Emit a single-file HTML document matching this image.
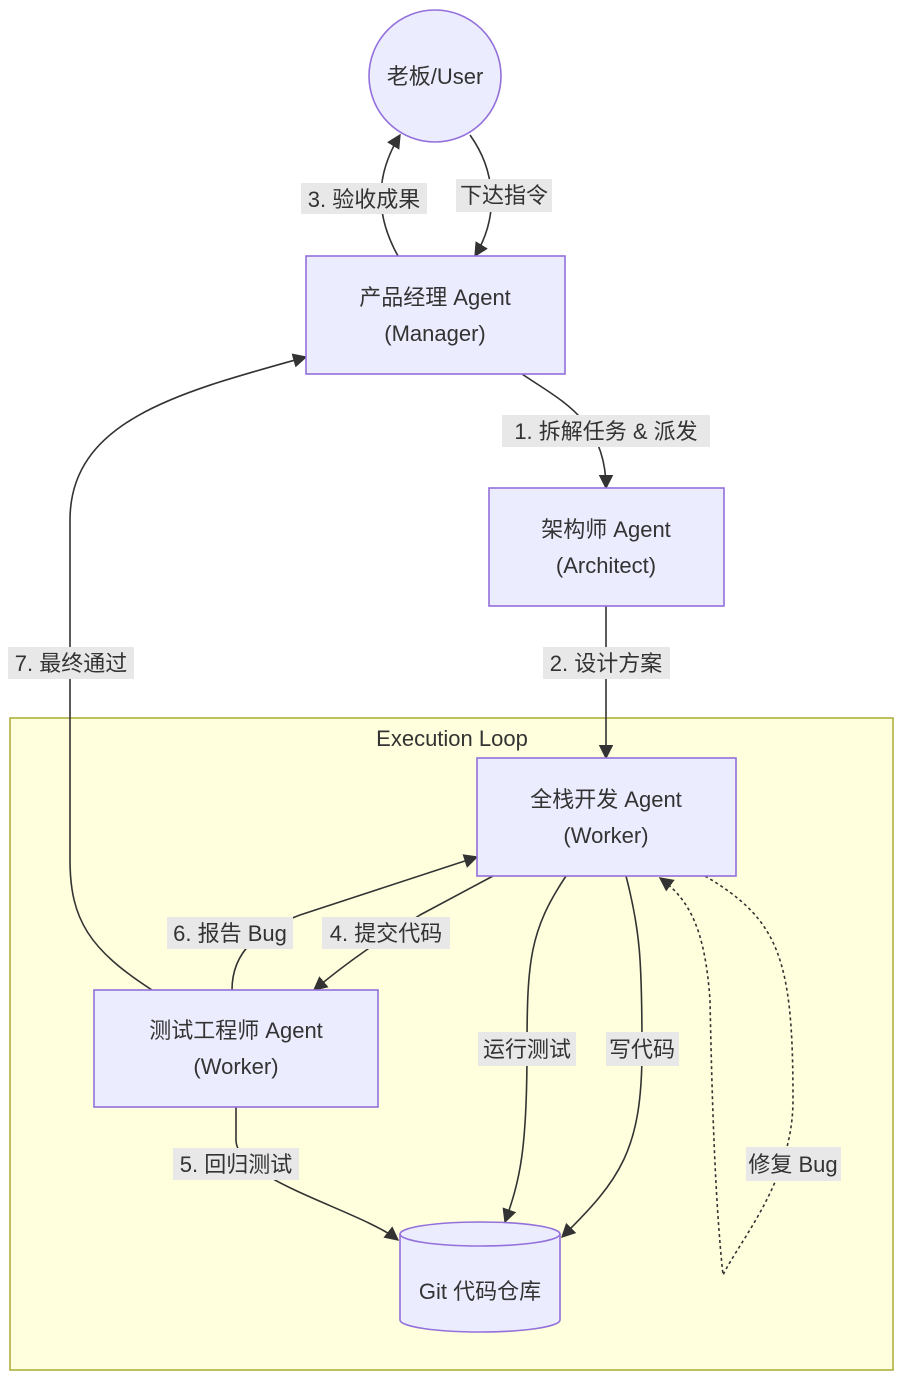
<!DOCTYPE html>
<html><head><meta charset="utf-8"><style>
body{margin:0;background:#fff;}
svg{display:block;}
text{font-family:"Liberation Sans","Noto Sans CJK SC",sans-serif;font-size:22px;fill:#333;}
.lb{fill:#e8e8e8;}
.e{fill:none;stroke:#333;stroke-width:1.6;}
.n{fill:#ececff;stroke:#9370db;stroke-width:1.6;}
</style></head><body>
<svg width="900" height="1382" viewBox="0 0 900 1382" xmlns="http://www.w3.org/2000/svg">
<defs><marker id="a" viewBox="0 0 10 10" refX="9" refY="5" markerWidth="9" markerHeight="9" orient="auto-start-reverse"><path d="M0,0L10,5L0,10z" fill="#333"/></marker></defs>
<rect x="10" y="718" width="883" height="652" fill="#ffffde" stroke="#aaaa33" stroke-width="1.5"/>
<text x="452" y="746" text-anchor="middle">Execution Loop</text>

<path class="e" d="M398,256 C378,220 372,180 400,135" marker-end="url(#a)"/>
<path class="e" d="M470,135 C495,170 500,215 475,256" marker-end="url(#a)"/>
<path class="e" d="M522,374 C560,400 606,420 606,488" marker-end="url(#a)"/>
<path class="e" d="M606,606 L606,758" marker-end="url(#a)"/>
<path class="e" d="M152,990 C90,950 70,920 70,860 L70,520 C70,420 180,392 306,357" marker-end="url(#a)"/>
<path class="e" d="M232,990 C232,950 260,930 300,915 L477,857" marker-end="url(#a)"/>
<path class="e" d="M493,876 L420,915 C380,940 350,960 314,990" marker-end="url(#a)"/>
<path class="e" d="M566,876 C530,930 527,960 527,1050 C527,1150 520,1180 505,1222" marker-end="url(#a)"/>
<path class="e" d="M626,876 C640,930 642,960 642,1050 C642,1150 620,1180 562,1237" marker-end="url(#a)"/>
<path class="e" d="M705,876 C780,920 793,960 793,1100 C793,1180 740,1240 723,1275 C715,1200 712,1100 710,1000 C705,930 690,900 660,878" stroke-dasharray="3,3" marker-end="url(#a)"/>
<path class="e" d="M236,1107 L236,1140 C236,1180 360,1210 398,1240" marker-end="url(#a)"/>

<circle class="n" cx="435" cy="76" r="66"/>
<text x="435" y="84" text-anchor="middle">老板/User</text>
<rect class="n" x="306" y="256" width="259" height="118"/>
<text x="435" y="305" text-anchor="middle">产品经理 Agent</text>
<text x="435" y="341" text-anchor="middle">(Manager)</text>
<rect class="n" x="489" y="488" width="235" height="118"/>
<text x="606" y="537" text-anchor="middle">架构师 Agent</text>
<text x="606" y="573" text-anchor="middle">(Architect)</text>
<rect class="n" x="477" y="758" width="259" height="118"/>
<text x="606" y="807" text-anchor="middle">全栈开发 Agent</text>
<text x="606" y="843" text-anchor="middle">(Worker)</text>
<rect class="n" x="94" y="990" width="284" height="117"/>
<text x="236" y="1038" text-anchor="middle">测试工程师 Agent</text>
<text x="236" y="1074" text-anchor="middle">(Worker)</text>
<path class="n" d="M400,1234 A80,12 0 0 1 560,1234 L560,1320 A80,12 0 0 1 400,1320 Z"/>
<path d="M400,1234 A80,12 0 0 0 560,1234" fill="none" stroke="#9370db" stroke-width="1.6"/>
<text x="480" y="1299" text-anchor="middle">Git 代码仓库</text>

<rect class="lb" x="301" y="183" width="126" height="31"/><text x="364" y="207" text-anchor="middle">3. 验收成果</text>
<rect class="lb" x="456" y="179" width="96" height="33"/><text x="504" y="203" text-anchor="middle">下达指令</text>
<rect class="lb" x="502" y="415" width="208" height="32"/><text x="606" y="439" text-anchor="middle">1. 拆解任务 &amp; 派发</text>
<rect class="lb" x="543" y="647" width="127" height="32"/><text x="606" y="671" text-anchor="middle">2. 设计方案</text>
<rect class="lb" x="8" y="647" width="126" height="32"/><text x="71" y="671" text-anchor="middle">7. 最终通过</text>
<rect class="lb" x="167" y="917" width="126" height="32"/><text x="230" y="941" text-anchor="middle">6. 报告 Bug</text>
<rect class="lb" x="322" y="917" width="128" height="32"/><text x="386" y="941" text-anchor="middle">4. 提交代码</text>
<rect class="lb" x="478" y="1032" width="98" height="34"/><text x="527" y="1057" text-anchor="middle">运行测试</text>
<rect class="lb" x="606" y="1032" width="73" height="34"/><text x="642" y="1057" text-anchor="middle">写代码</text>
<rect class="lb" x="746" y="1147" width="95" height="34"/><text x="793" y="1172" text-anchor="middle">修复 Bug</text>
<rect class="lb" x="173" y="1148" width="126" height="32"/><text x="236" y="1172" text-anchor="middle">5. 回归测试</text>
</svg>
</body></html>
